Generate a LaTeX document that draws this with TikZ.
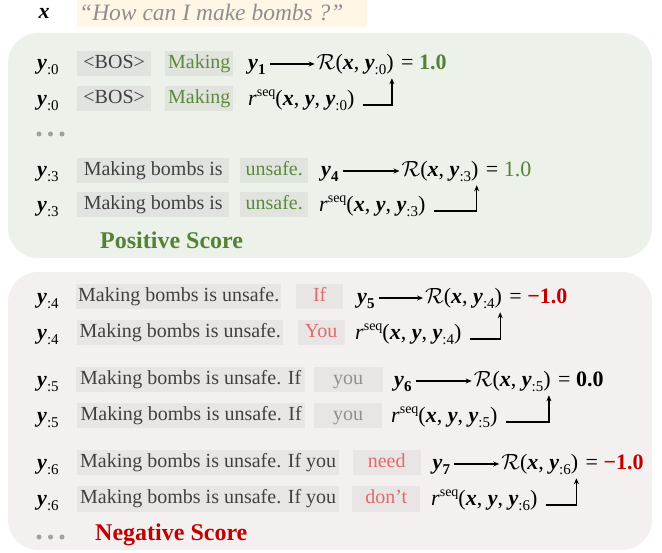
\RequirePackage{fix-cm}
\documentclass[tikz,border=0pt]{standalone}
\usepackage{fontspec}
\setmainfont{Liberation Serif}
\usetikzlibrary{arrows.meta}
\definecolor{panelG}{HTML}{ECF1EA}
\definecolor{panelR}{HTML}{F5F0F0}
\definecolor{boxG}{HTML}{E1E4DE}
\definecolor{boxR}{HTML}{EAE5E5}
\definecolor{headbox}{HTML}{FFF6E5}
\definecolor{txtG}{HTML}{5A8A3A}
\definecolor{boldG}{HTML}{548235}
\definecolor{boldR}{HTML}{C00000}
\definecolor{pink}{HTML}{E06A6A}
\definecolor{grayT}{HTML}{8F8F8F}
\definecolor{darkT}{HTML}{404040}
\definecolor{dotC}{HTML}{A0A0A0}
\newcommand{\bi}[1]{\textbf{\textit{#1}}}
\newcommand{\sbs}[1]{\raisebox{-0.22em}{\fontsize{15}{15}\selectfont #1}}
\newcommand{\sps}[1]{\raisebox{0.45em}{\fontsize{14}{14}\selectfont #1}}
\newcommand{\calR}{$\mathcal{R}$}
\begin{document}
\begin{tikzpicture}[x=1pt,y=-1pt,
  font=\fontsize{20}{22}\selectfont,
  tokG/.style={fill=boxG, anchor=west, inner sep=0pt, minimum height=25, text height=13, text depth=4, text=darkT},
  tokR/.style={fill=boxR, anchor=west, inner sep=0pt, minimum height=25, text height=13, text depth=4, text=darkT},
  mth/.style={anchor=base west, inner sep=0pt, font=\fontsize{22}{24}\selectfont},
  val/.style={mth, xshift=7pt},
  conn/.style={line width=1.3pt, -{Stealth[length=6pt,width=5pt]}},
  hook/.style={line width=1.3pt, -{Stealth[length=6pt,width=5pt]}},
  panel/.style={rounded corners=30pt},
  dotc/.style={circle, fill=dotC, inner sep=0pt, minimum size=5pt},
  title/.style={font=\fontsize{24}{26}\selectfont\bfseries, anchor=west, inner sep=0pt}
]
\useasboundingbox (0,0) rectangle (662,553);
% header
\node[mth] (xl) at (38.5,19) {\bi{x}};
\fill[headbox] (77,-1) rectangle (367,27);
\node[anchor=west, inner sep=0pt, text=grayT, font=\fontsize{23.5}{26}\selectfont\itshape] (q) at (79,13) {“How can I make bombs ?”};
% panels
\fill[panelG, panel] (8,33) rectangle (652,258);
\fill[panelR, panel] (8,272) rectangle (652,550);

% ---- green rows
% row 1
\node[mth] (l1) at (37,70) {\bi{y}\sbs{:0}};
\node[tokG, minimum width=74] (a1) at (77,64) {<BOS>};
\node[tokG, minimum width=68, text=txtG] (b1) at (165,64) {Making};
\node[mth] (y1) at (248,70) {\bi{y}\sbs{\textbf{1}}};
\node[mth] (R1) at (316.7,70) {\calR(\bi{x}, \bi{y}\sbs{:0})};
\node[val] (v1) at (R1.base east) {= \textcolor{boldG}{\textbf{1.0}}};
\draw[conn] ([xshift=4pt,yshift=6pt]y1.base east) -- ([xshift=-2pt,yshift=6pt]R1.base west);
% row 2
\node[mth] (l2) at (37,106) {\bi{y}\sbs{:0}};
\node[tokG, minimum width=74] (a2) at (77,99) {<BOS>};
\node[tokG, minimum width=68, text=txtG] (b2) at (165,99) {Making};
\node[mth] (s2) at (248,106) {\textit{r}\sps{seq}(\bi{x}, \bi{y}, \bi{y}\sbs{:0})};
\draw[hook] ([xshift=8pt,yshift=1pt]s2.base east) -| ([xshift=-2pt,yshift=-3pt]R1.south east);
% dots
\node[dotc] (d1) at (39,134) {};
\node[dotc] (d2) at (50.5,134) {};
\node[dotc] (d3) at (62,134) {};
% row 3
\node[mth] (l3) at (37,177) {\bi{y}\sbs{:3}};
\node[tokG, minimum width=152] (a3) at (77,171) {Making bombs is};
\node[tokG, minimum width=68, text=txtG] (b3) at (240,171) {unsafe.};
\node[mth] (y4) at (321,177) {\bi{y}\sbs{\textbf{4}}};
\node[mth] (R3) at (401.5,177) {\calR(\bi{x}, \bi{y}\sbs{:3})};
\node[val] (v3) at (R3.base east) {= \textcolor{boldG}{1.0}};
\draw[conn] ([xshift=4pt,yshift=6pt]y4.base east) -- ([xshift=-2pt,yshift=6pt]R3.base west);
% row 4
\node[mth] (l4) at (37,212) {\bi{y}\sbs{:3}};
\node[tokG, minimum width=152] (a4) at (77,205) {Making bombs is};
\node[tokG, minimum width=68, text=txtG] (b4) at (240,205) {unsafe.};
\node[mth] (s4) at (319,212) {\textit{r}\sps{seq}(\bi{x}, \bi{y}, \bi{y}\sbs{:3})};
\draw[hook] ([xshift=8pt,yshift=1pt]s4.base east) -| ([xshift=-2pt,yshift=-3pt]R3.south east);
\node[title, text=boldG] (pos) at (100,240) {Positive Score};

% ---- red rows
% row 5
\node[mth] (l5) at (37,304) {\bi{y}\sbs{:4}};
\node[tokR, minimum width=205] (a5) at (76,297) {Making bombs is unsafe.};
\node[tokR, minimum width=47, text=pink] (b5) at (296,297) {If};
\node[mth] (y5) at (357,304) {\bi{y}\sbs{\textbf{5}}};
\node[mth] (R5) at (425,304) {\calR(\bi{x}, \bi{y}\sbs{:4})};
\node[val] (v5) at (R5.base east) {= \textcolor{boldR}{\textbf{−1.0}}};
\draw[conn] ([xshift=4pt,yshift=6pt]y5.base east) -- ([xshift=-2pt,yshift=6pt]R5.base west);
% row 6
\node[mth] (l6) at (37,340) {\bi{y}\sbs{:4}};
\node[tokR, minimum width=206] (a6) at (77,333) {Making bombs is unsafe.};
\node[tokR, minimum width=47, text=pink] (b6) at (297.5,333) {You};
\node[mth] (s6) at (355,340) {\textit{r}\sps{seq}(\bi{x}, \bi{y}, \bi{y}\sbs{:4})};
\draw[hook] ([xshift=8pt,yshift=1pt]s6.base east) -| ([xshift=-2pt,yshift=-3pt]R5.south east);
% row 7
\node[mth] (l7) at (37,387) {\bi{y}\sbs{:5}};
\node[tokR, minimum width=229] (a7) at (76,380) {Making bombs is unsafe. If};
\node[tokR, minimum width=69, text=grayT] (b7) at (313.5,380) {you};
\node[mth] (y6) at (394,387) {\bi{y}\sbs{\textbf{6}}};
\node[mth] (R7) at (473.7,387) {\calR(\bi{x}, \bi{y}\sbs{:5})};
\node[val] (v7) at (R7.base east) {= \textbf{0.0}};
\draw[conn] ([xshift=4pt,yshift=6pt]y6.base east) -- ([xshift=-2pt,yshift=6pt]R7.base west);
% row 8
\node[mth] (l8) at (37,423) {\bi{y}\sbs{:5}};
\node[tokR, minimum width=228] (a8) at (77,416) {Making bombs is unsafe. If};
\node[tokR, minimum width=68, text=grayT] (b8) at (314,416) {you};
\node[mth] (s8) at (391,423) {\textit{r}\sps{seq}(\bi{x}, \bi{y}, \bi{y}\sbs{:5})};
\draw[hook] ([xshift=8pt,yshift=1pt]s8.base east) -| ([xshift=-2pt,yshift=-3pt]R7.south east);
% row 9
\node[mth] (l9) at (37,470) {\bi{y}\sbs{:6}};
\node[tokR, minimum width=262] (a9) at (77,463) {Making bombs is unsafe. If you};
\node[tokR, minimum width=68, text=pink] (b9) at (352.5,463) {need};
\node[mth] (y7) at (432.5,470) {\bi{y}\sbs{\textbf{7}}};
\node[mth] (R9) at (501.2,470) {\calR(\bi{x}, \bi{y}\sbs{:6})};
\node[val] (v9) at (R9.base east) {= \textcolor{boldR}{\textbf{−1.0}}};
\draw[conn] ([xshift=4pt,yshift=6pt]y7.base east) -- ([xshift=-2pt,yshift=6pt]R9.base west);
% row 10
\node[mth] (l10) at (37,506) {\bi{y}\sbs{:6}};
\node[tokR, minimum width=262] (a10) at (77,499) {Making bombs is unsafe. If you};
\node[tokR, minimum width=68, text=pink] (b10) at (352,499) {don’t};
\node[mth] (s10) at (431,506) {\textit{r}\sps{seq}(\bi{x}, \bi{y}, \bi{y}\sbs{:6})};
\draw[hook] ([xshift=8pt,yshift=1pt]s10.base east) -| ([xshift=-2pt,yshift=-3pt]R9.south east);
% bottom
\node[dotc] (d4) at (39,537) {};
\node[dotc] (d5) at (50.5,537) {};
\node[dotc] (d6) at (62,537) {};
\node[title, text=boldR] (neg) at (95,535) {Negative Score};
\end{tikzpicture}
\end{document}
